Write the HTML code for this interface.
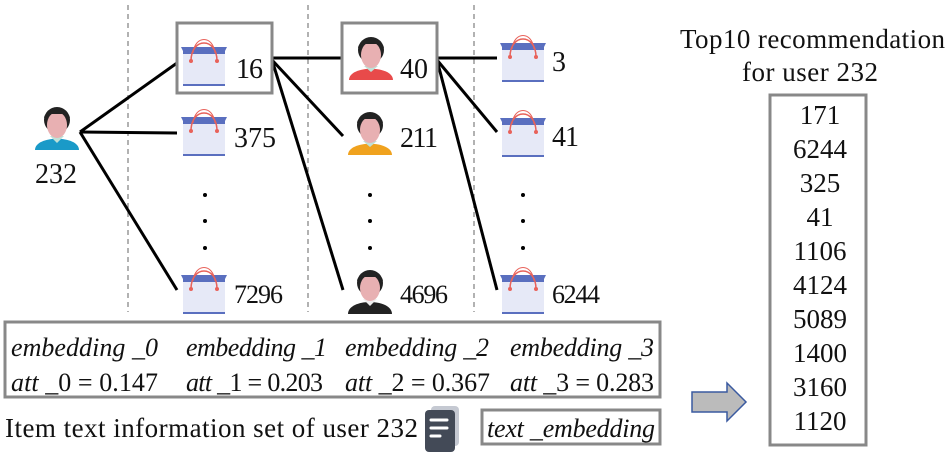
<!DOCTYPE html>
<html><head><meta charset="utf-8"><style>
body{margin:0;background:#fff}
svg{display:block}
text{font-family:"Liberation Serif",serif;fill:#111}
.i{font-style:italic}
</style></head><body>
<svg width="950" height="458" viewBox="0 0 950 458" xmlns="http://www.w3.org/2000/svg">
<defs>
<g id="bag">
<rect x="0" y="10" width="42" height="36" fill="#e6e9f7"/>
<rect x="0" y="10" width="42" height="5" fill="#5a6fbf"/>
<polygon points="-2,8 44,8 42,12 0,12" fill="#5a6fbf"/>
<rect x="0" y="45" width="42" height="2" fill="#5a6fbf"/>
<path d="M8,22 C8,-2 34,-2 34,22" fill="none" stroke="#e8625a" stroke-width="1.5"/>
<path d="M10,14 C12,-4 30,-4 32,14" fill="none" stroke="#e8625a" stroke-width="1"/>
<circle cx="8" cy="22" r="2" fill="#e8625a"/><circle cx="34" cy="22" r="2" fill="#e8625a"/>
</g>
<g id="head">
<circle cx="0" cy="0" r="13" fill="#222"/>
<ellipse cx="0" cy="5" rx="10" ry="13" fill="#e8b0b2"/>
<path d="M-13,-2 C-12,-12 12,-12 13,-2 L10,-6 L-10,-6Z" fill="#222"/>
</g>
</defs>
<g stroke="#888" stroke-width="1.3" stroke-dasharray="5,4">
<line x1="128" y1="5" x2="128" y2="312"/><line x1="308" y1="5" x2="308" y2="312"/><line x1="474" y1="5" x2="474" y2="312"/>
</g>
<g stroke="#000" stroke-width="3" fill="none">
<line x1="80" y1="132" x2="177" y2="63"/><line x1="80" y1="132" x2="177" y2="133"/><line x1="80" y1="132" x2="177" y2="290"/>
<line x1="272" y1="58" x2="342" y2="58"/><line x1="272" y1="60" x2="343" y2="136"/><line x1="272" y1="60" x2="343" y2="290"/>
<line x1="437" y1="58" x2="497" y2="58"/><line x1="437" y1="60" x2="497" y2="132"/><line x1="437" y1="60" x2="497" y2="290"/>
</g>
<path d="M35,150 C35,135 79,135 79,150 Z" fill="#1a9ac8"/>
<polygon points="50,136 57,143 64,136" fill="#bfe0d6"/>
<use href="#head" x="57" y="120"/>
<text x="35" y="183" font-size="28" textLength="42">232</text>
<rect x="177" y="23" width="95" height="70" fill="none" stroke="#888" stroke-width="3"/>
<use href="#bag" x="183" y="39"/><text x="236" y="78" font-size="28" textLength="27">16</text>
<use href="#bag" x="183" y="109"/><text x="234" y="147" font-size="28" textLength="42">375</text>
<use href="#bag" x="183" y="267"/><text x="234" y="303" font-size="26" textLength="49">7296</text>
<g fill="#000"><circle cx="205" cy="195" r="2"/><circle cx="205" cy="221" r="2"/><circle cx="205" cy="248" r="2"/>
<circle cx="370" cy="195" r="2"/><circle cx="370" cy="221" r="2"/><circle cx="370" cy="248" r="2"/>
<circle cx="523" cy="195" r="2"/><circle cx="523" cy="221" r="2"/><circle cx="523" cy="248" r="2"/></g>
<rect x="342" y="23" width="95" height="70" fill="none" stroke="#888" stroke-width="3"/>
<path d="M349,80 C349,65 393,65 393,80 Z" fill="#e84a4a"/>
<polygon points="364,66 371,72 378,66" fill="#bfe0d6"/>
<use href="#head" x="371" y="50"/><text x="400" y="78" font-size="28" textLength="28">40</text>
<path d="M348,155 C348,140 392,140 392,155 Z" fill="#f0a21e"/>
<polygon points="363,141 370,147 377,141" fill="#bfe0d6"/>
<use href="#head" x="370" y="125"/><text x="400" y="147" font-size="28" textLength="38">211</text>
<path d="M348,314 C348,298 392,298 392,314 Z" fill="#222"/>
<polygon points="363,299 370,306 377,299" fill="#eee"/>
<use href="#head" x="370" y="283"/><text x="400" y="303" font-size="26" textLength="48">4696</text>
<use href="#bag" x="502" y="35"/><text x="552" y="71" font-size="28">3</text>
<use href="#bag" x="502" y="110"/><text x="552" y="146" font-size="28" textLength="27">41</text>
<use href="#bag" x="502" y="267"/><text x="552" y="303" font-size="26" textLength="48">6244</text>
<rect x="5" y="322" width="655" height="75" fill="none" stroke="#888" stroke-width="3"/>
<g font-size="26">
<text x="11" y="356" class="i" textLength="147">embedding _0</text>
<text x="186" y="356" class="i" textLength="141">embedding _1</text>
<text x="345" y="356" class="i" textLength="144">embedding _2</text>
<text x="510" y="356" class="i" textLength="144">embedding _3</text>
<text x="11" y="391" textLength="147"><tspan font-style="italic">att</tspan> _0 = 0.147</text>
<text x="186" y="391" textLength="137"><tspan font-style="italic">att</tspan> _1 = 0.203</text>
<text x="345" y="391" textLength="145"><tspan font-style="italic">att</tspan> _2 = 0.367</text>
<text x="510" y="391" textLength="144"><tspan font-style="italic">att</tspan> _3 = 0.283</text>
</g>
<text x="5" y="437" font-size="27" textLength="413">Item text information set of user 232</text>
<rect x="431" y="406" width="28" height="40" rx="4" fill="#c5c9d2"/>
<rect x="425" y="410" width="30" height="42" rx="4" fill="#434a57"/>
<g stroke="#fff" stroke-width="3" stroke-linecap="round"><line x1="431" y1="420" x2="447" y2="420"/><line x1="431" y1="428" x2="447" y2="428"/><line x1="431" y1="436" x2="440" y2="436"/></g>
<rect x="482" y="410" width="178" height="34" fill="none" stroke="#888" stroke-width="3"/>
<text x="487" y="437" font-size="26" class="i" textLength="168">text _embedding</text>
<polygon points="692,392 727,392 727,383 746,402 727,421 727,412 692,412" fill="#bbb" stroke="#3a5aa0" stroke-width="1.5"/>
<text x="680" y="48" font-size="27" textLength="265">Top10 recommendation</text>
<text x="742" y="81" font-size="27" textLength="136">for user 232</text>
<rect x="770" y="95" width="96" height="350" fill="none" stroke="#888" stroke-width="3"/>
<g font-size="27" text-anchor="middle">
<text x="820" y="124">171</text><text x="820" y="158">6244</text><text x="820" y="192">325</text><text x="820" y="226">41</text><text x="820" y="260">1106</text>
<text x="820" y="294">4124</text><text x="820" y="328">5089</text><text x="820" y="362">1400</text><text x="820" y="396">3160</text><text x="820" y="430">1120</text>
</g>
</svg>
</body></html>
